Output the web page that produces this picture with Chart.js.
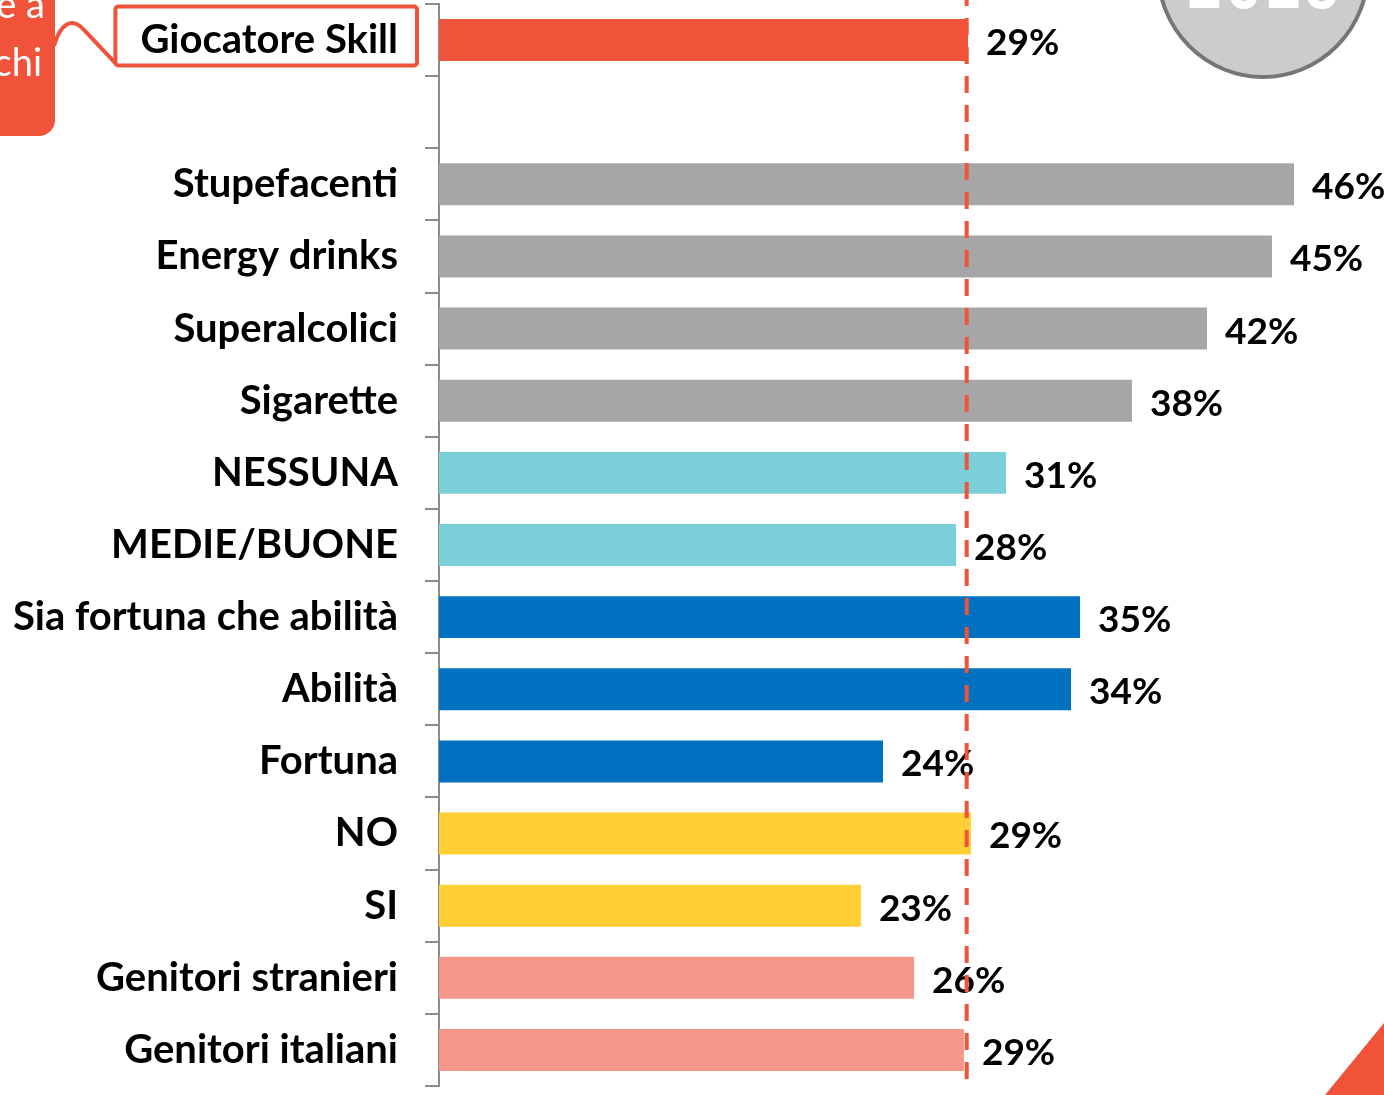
<!DOCTYPE html>
<html>
<head>
<meta charset="utf-8">
<script src="https://cdn.jsdelivr.net/npm/chart.js@4"></script>
<style>
  body { margin: 0; background: #fff; }
  #wrap { width: 1384px; height: 1095px; position: relative; }
</style>
</head>
<body>
<div id="wrap"><canvas id="barChart"></canvas></div>
<script>
// Categories, top to bottom (empty string = spacer row)
const categories = ['Giocatore Skill', '', 'Stupefacenti', 'Energy drinks', 'Superalcolici', 'Sigarette',
    'NESSUNA', 'MEDIE/BUONE', 'Sia fortuna che abilità', 'Abilità', 'Fortuna', 'NO', 'SI',
    'Genitori stranieri', 'Genitori italiani'];

// Bar values (%)
const values = [28.75, null, 46.47, 45.27, 41.74, 37.66, 30.82, 28.10, 34.84, 34.35, 24.13, 28.91, 22.93, 25.82, 28.53];

// Labels printed next to the bars
const valueLabels = ['29%', '', '46%', '45%', '42%', '38%', '31%', '28%', '35%', '34%', '24%', '29%', '23%', '26%', '29%'];

const barColors = ['#F0533A', null, '#A6A6A6', '#A6A6A6', '#A6A6A6', '#A6A6A6', '#7ACFD8', '#7ACFD8',
    '#0070C0', '#0070C0', '#0070C0', '#FFCF33', '#FFCF33', '#F4978A', '#F4978A'];

// Reference value (dashed line) and axis range
const referenceValue = 28.68;
const xMax = 51.36;

const FONT = 'Lato, "Open Sans", sans-serif';
const RED = '#F0533A';

// Value labels at the end of each bar
const valueLabelPlugin = {
    id: 'valueLabels',
    afterDatasetsDraw(chart) {
        const ctx = chart.ctx;
        const meta = chart.getDatasetMeta(0);
        ctx.save();
        ctx.font = `bold 37px ${FONT}`;
        ctx.fillStyle = '#000';
        ctx.textAlign = 'left';
        ctx.textBaseline = 'middle';
        meta.data.forEach((bar, i) => {
            if (!valueLabels[i]) return;
            ctx.fillText(valueLabels[i], bar.x + 18, bar.y + 3);
        });
        ctx.restore();
    }
};

// Dashed reference line
const refLinePlugin = {
    id: 'refLine',
    afterDraw(chart) {
        const ctx = chart.ctx;
        const x = chart.scales.x.getPixelForValue(referenceValue);
        ctx.save();
        ctx.strokeStyle = RED;
        ctx.lineWidth = 4;
        ctx.setLineDash([17, 12]);
        ctx.lineDashOffset = -18;
        ctx.beginPath();
        ctx.moveTo(x, 0);
        ctx.lineTo(x, chart.chartArea.bottom);
        ctx.stroke();
        ctx.restore();
    }
};

// Slide decorations: callout, highlighted label box, year badge, corner triangle
const decorPlugin = {
    id: 'decor',
    afterDraw(chart) {
        const ctx = chart.ctx;
        const yScale = chart.scales.y;
        const cy = yScale.getPixelForValue(0) - 4;
        const boxRight = yScale.right - 20;
        ctx.save();
        ctx.font = `bold 40px ${FONT}`;
        const w = ctx.measureText(categories[0]).width;
        const boxLeft = boxRight - w - 48;

        // box round the first label
        ctx.strokeStyle = RED;
        ctx.lineWidth = 4;
        ctx.beginPath();
        ctx.roundRect(boxLeft + 2, cy - 29.5, boxRight - boxLeft - 4, 59, 3);
        ctx.stroke();

        // callout shape at the left
        ctx.fillStyle = RED;
        ctx.beginPath();
        ctx.roundRect(-30, -30, 85, 166, 16);
        ctx.fill();
        ctx.beginPath();
        ctx.moveTo(54, 46);
        ctx.bezierCurveTo(60, 24, 72, 16, 84, 30);
        ctx.lineTo(boxLeft + 2, cy + 27);
        ctx.stroke();
        ctx.fillStyle = '#fff';
        ctx.font = `38px ${FONT}`;
        ctx.textAlign = 'right';
        ctx.textBaseline = 'alphabetic';
        ctx.fillText('e a', 45, 18);
        ctx.fillText('chi', 42, 76);

        // grey year badge
        ctx.fillStyle = '#CCCCCC';
        ctx.strokeStyle = '#767676';
        ctx.lineWidth = 4;
        ctx.beginPath();
        ctx.ellipse(1263, -30, 105, 107, 0, 0, Math.PI * 2);
        ctx.fill();
        ctx.stroke();
        ctx.fillStyle = '#fff';
        ctx.font = 'bold 64px "DejaVu Sans Mono", monospace';
        ctx.textAlign = 'center';
        ctx.fillText('2016', 1263, 8);

        // corner triangle
        ctx.fillStyle = RED;
        ctx.beginPath();
        ctx.moveTo(1325, 1095);
        ctx.lineTo(1384, 1023);
        ctx.lineTo(1384, 1095);
        ctx.closePath();
        ctx.fill();
        ctx.restore();
    }
};

const ctx = document.getElementById('barChart').getContext('2d');
new Chart(ctx, {
    type: 'bar',
    data: {
        labels: categories,
        datasets: [{
            data: values,
            backgroundColor: barColors,
            borderWidth: 0,
            barPercentage: 0.582,
            categoryPercentage: 1.0,
        }],
    },
    options: {
        indexAxis: 'y',
        responsive: true,
        maintainAspectRatio: false,
        animation: false,
        layout: { padding: { top: 4, bottom: 9, left: 0, right: 0 } },
        plugins: {
            legend: { display: false },
            tooltip: { enabled: false },
        },
        scales: {
            x: {
                display: false,
                min: 0,
                max: xMax,
            },
            y: {
                afterFit(scale) {
                    scale.width = 439;
                    scale.paddingTop = 0;
                    scale.paddingBottom = 0;
                },
                grid: {
                    display: true,
                    drawOnChartArea: false,
                    drawTicks: true,
                    tickLength: 14,
                    offset: true,
                    color: '#8C8C8C',
                    lineWidth: 2,
                },
                border: { display: true, color: '#8C8C8C', width: 2 },
                ticks: {
                    padding: 27,
                    color: '#000',
                    font: { family: FONT, size: 40, weight: 'bold' },
                },
            },
        },
    },
    plugins: [valueLabelPlugin, refLinePlugin, decorPlugin],
});
</script>
</body>
</html>
